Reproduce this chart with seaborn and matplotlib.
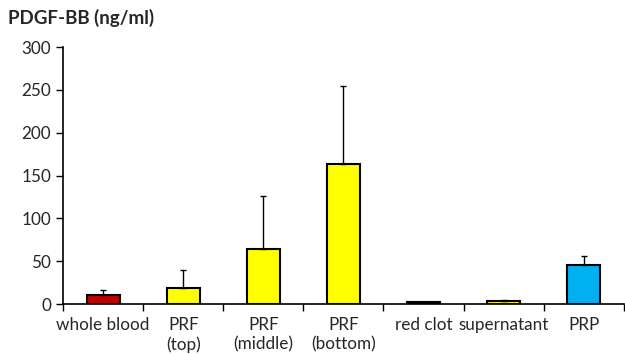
import numpy as np
import matplotlib
matplotlib.use("Agg")
import matplotlib.pyplot as plt
import seaborn as sns

categories = ["whole blood", "PRF\n(top)", "PRF\n(middle)", "PRF\n(bottom)",
              "red clot", "supernatant", "PRP"]
means = [11, 19, 64, 163, 2, 4, 46]
sd = [5, 21, 62, 91, 0.5, 1, 10]
colors = ["#C00000", "#FFFF00", "#FFFF00", "#FFFF00", "#C00000", "#FFFF00", "#00B0F0"]

sns.set_style("ticks")
plt.rcParams["font.family"] = ["Lato", "DejaVu Sans"]

fig = plt.figure(figsize=(6.25, 3.54), dpi=100)
ax = fig.add_axes([0.101, 0.141, 0.897, 0.726])

sns.barplot(x=categories, y=means, hue=categories, palette=colors, legend=False,
            saturation=1, width=0.41, edgecolor="black", linewidth=1.5, ax=ax)
x = np.arange(len(categories))
ax.errorbar(x, means, yerr=[np.zeros(len(sd)), sd], fmt="none", ecolor="black",
            elinewidth=1, capsize=2, capthick=1)

ax.set_xlim(-0.5, len(categories) - 0.5)
ax.set_ylim(0, 300)
ax.set_yticks(range(0, 301, 50))
ax.set_xticks(x)
ax.set_xticklabels(categories, fontsize=12.3, linespacing=1.3)
ax.tick_params(axis="x", which="major", length=0, pad=9)
ax.set_xticks(np.arange(-0.5, len(categories)), minor=True)
ax.tick_params(axis="x", which="minor", length=5, width=1, color="black")
ax.tick_params(axis="y", labelsize=12.3, length=5, width=1, color="black")
for s in ["top", "right"]:
    ax.spines[s].set_visible(False)
for s in ["left", "bottom"]:
    ax.spines[s].set_linewidth(1.2)
    ax.spines[s].set_color("black")

fig.text(0.013, 0.95, "PDGF-BB (ng/ml)", fontsize=13.5, fontweight="bold", va="center")

fig.savefig("out.png", dpi=100)
